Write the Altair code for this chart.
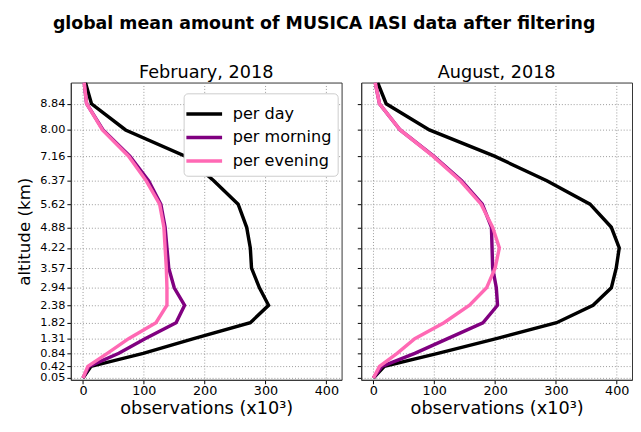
import altair as alt
import pandas as pd

altitudes = [0.05, 0.42, 0.84, 1.31, 1.82, 2.38, 2.94, 3.57, 4.22, 4.88, 5.62, 6.37, 7.16, 8.00, 8.84, 9.52]
tick_alts = [0.05, 0.42, 0.84, 1.31, 1.82, 2.38, 2.94, 3.57, 4.22, 4.88, 5.62, 6.37, 7.16, 8.00, 8.84]
series_names = ["per day", "per morning", "per evening"]
series_colors = ["#000000", "#800080", "#ff69b4"]

feb_day = [0, 13, 99, 182, 275, 305, 290, 277, 275, 269, 255, 215, 168, 70, 14, 4]
feb_morning = [0, 10, 59, 102, 153, 167, 150, 141, 138, 135, 128, 108, 77, 33, 6, 2]
feb_evening = [0, 8, 40, 75, 120, 138, 138, 137, 135, 133, 126, 104, 75, 32, 6, 2]

aug_day = [0, 18, 106, 202, 301, 361, 391, 399, 404, 391, 356, 285, 199, 92, 21, 7]
aug_morning = [0, 14, 68, 122, 180, 204, 202, 196, 195, 194, 179, 145, 99, 44, 10, 3]
aug_evening = [0, 10, 39, 68, 116, 158, 186, 200, 207, 196, 177, 143, 98, 44, 10, 3]

FONT = "DejaVu Sans"


def make_df(day, morning, evening):
    rows = []
    for name, vals in zip(series_names, [day, morning, evening]):
        for i, (a, v) in enumerate(zip(altitudes, vals)):
            rows.append({"series": name, "alt": a, "obs": v, "idx": i})
    return pd.DataFrame(rows)


def panel(df, title, show_y_labels, show_legend, width):
    y_axis = alt.Axis(
        values=tick_alts, format=".2f", grid=True, gridDash=[1, 2], gridColor="#999999",
        labels=show_y_labels, title="altitude (km)" if show_y_labels else None,
        labelFontSize=11.5, titleFontSize=17, titleFontWeight="normal", titlePadding=6,
        labelOverlap=False, tickSize=4, labelPadding=2,
        tickColor="#000000", domainColor="#333333", labelColor="#000000",
    )
    x_axis = alt.Axis(
        values=[0, 100, 200, 300, 400], format="d", grid=True, gridDash=[1, 2], gridColor="#999999",
        title="observations (x10³)", labelFontSize=13, titleFontSize=18, titleFontWeight="normal",
        tickSize=4, labelPadding=1, labelOverlap=False,
        tickColor="#000000", domainColor="#333333", labelColor="#000000", titlePadding=2,
    )
    if show_legend:
        legend = alt.Legend(
            title=None, orient="none", legendX=115, legendY=11, symbolType="M-1.4,0L1.4,0",
            symbolStrokeWidth=3.5, symbolSize=676, labelFontSize=16.4, labelFont=FONT,
            strokeColor="#cccccc", fillColor="#ffffff", padding=6, cornerRadius=4,
            rowPadding=0, labelOffset=14, labelColor="#000000",
        )
    else:
        legend = None
    return alt.Chart(df, title=alt.TitleParams(title, fontSize=18, fontWeight="normal", font=FONT, offset=1)).mark_line(
        strokeWidth=3.5, clip=True
    ).encode(
        x=alt.X("obs:Q", scale=alt.Scale(domain=[-20, 425], nice=False, zero=False), axis=x_axis),
        y=alt.Y("alt:Q", scale=alt.Scale(domain=[-0.01, 9.52], nice=False, zero=False), axis=y_axis),
        color=alt.Color("series:N", scale=alt.Scale(domain=series_names, range=series_colors),
                        sort=series_names, legend=legend),
        order=alt.Order("idx:Q"),
    ).properties(width=width, height=303)


left = panel(make_df(feb_day, feb_morning, feb_evening), "February, 2018", True, True, 276)
right = panel(make_df(aug_day, aug_morning, aug_evening), "August, 2018", False, False, 276)

chart = alt.hconcat(left, right, spacing=14).resolve_legend(color="independent").properties(
    title=alt.TitleParams("global mean amount of MUSICA IASI data after filtering", fontSize=17.7,
                          fontWeight="bold", font=FONT, anchor="middle", offset=31),
    padding={"left": 7, "top": 3, "right": 0, "bottom": 0},
).configure(font=FONT).configure_view(stroke="#333333", strokeWidth=1).configure_axis(
    labelFont=FONT, titleFont=FONT
)

chart.save("out.html", embed_options={"renderer": "svg", "actions": False})
